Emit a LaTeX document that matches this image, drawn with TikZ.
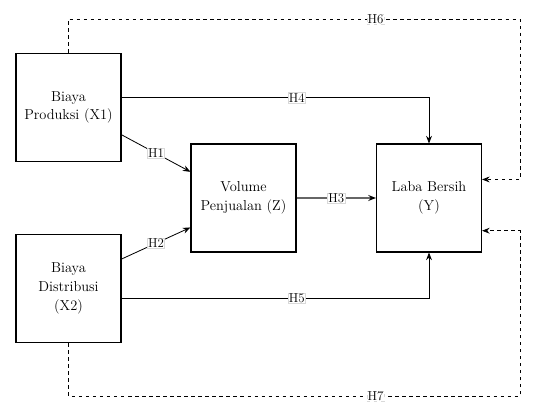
\documentclass[tikz,border=0pt]{standalone}
\usepackage{tikz}
\usetikzlibrary{arrows.meta,calc}
\begin{document}
\begin{tikzpicture}[>={Stealth[length=6.5pt,width=5pt]},x=0.03cm,y=-0.03cm,
    every node/.style={font=\fontsize{12.3}{16}\selectfont},
    var/.style={draw,line width=0.9pt,minimum width=3.15cm,minimum height=3.24cm,align=center,inner sep=1pt},
    hyp/.style={fill=white,draw=black!15,line width=0.3pt,inner sep=0.6pt,font=\fontsize{11}{12}\selectfont},
    link/.style={->,line width=0.7pt},
    back/.style={link,dashed}]
  \useasboundingbox (0,0) rectangle (535,403);
  % variables
  \node[var] (x1) at (68.5,107.5) {Biaya\\Produksi (X1)};
  \node[var] (x2) at (68.5,288.5) {Biaya\\Distribusi\\(X2)};
  \node[var] (z) at (243.5,198) {Volume\\Penjualan (Z)};
  \node[var] (y) at (429,198) {Laba Bersih\\(Y)};
  \coordinate (tr) at (520,19);
  \coordinate (br) at (520,396);
  % direct paths
  \draw[link] ($(x1.north east)!0.75!(x1.south east)$) -- node[hyp]{H1} ($(z.north west)!0.26!(z.south west)$);
  \draw[link] ($(x2.north east)!0.23!(x2.south east)$) -- node[hyp]{H2} ($(z.north west)!0.77!(z.south west)$);
  \draw[link,draw=black!60,line width=1.3pt,-{Stealth[color=black,length=6.5pt,width=5pt]}] (z) -- node[hyp]{H3} (y);
  \draw[link] ($(x1.north east)!0.41!(x1.south east)$) -| node[hyp,pos=0.285]{H4} (y.north);
  \draw[link] ($(x2.north east)!0.59!(x2.south east)$) -| node[hyp,pos=0.285]{H5} (y.south);
  % indirect paths
  \draw[back] (x1.north) |- node[hyp,pos=0.84]{H6} (tr) |- ($(y.north east)!0.33!(y.south east)$);
  \draw[back] (x2.south) |- node[hyp,pos=0.84]{H7} (br) |- ($(y.north east)!0.8!(y.south east)$);
\end{tikzpicture}
\end{document}
